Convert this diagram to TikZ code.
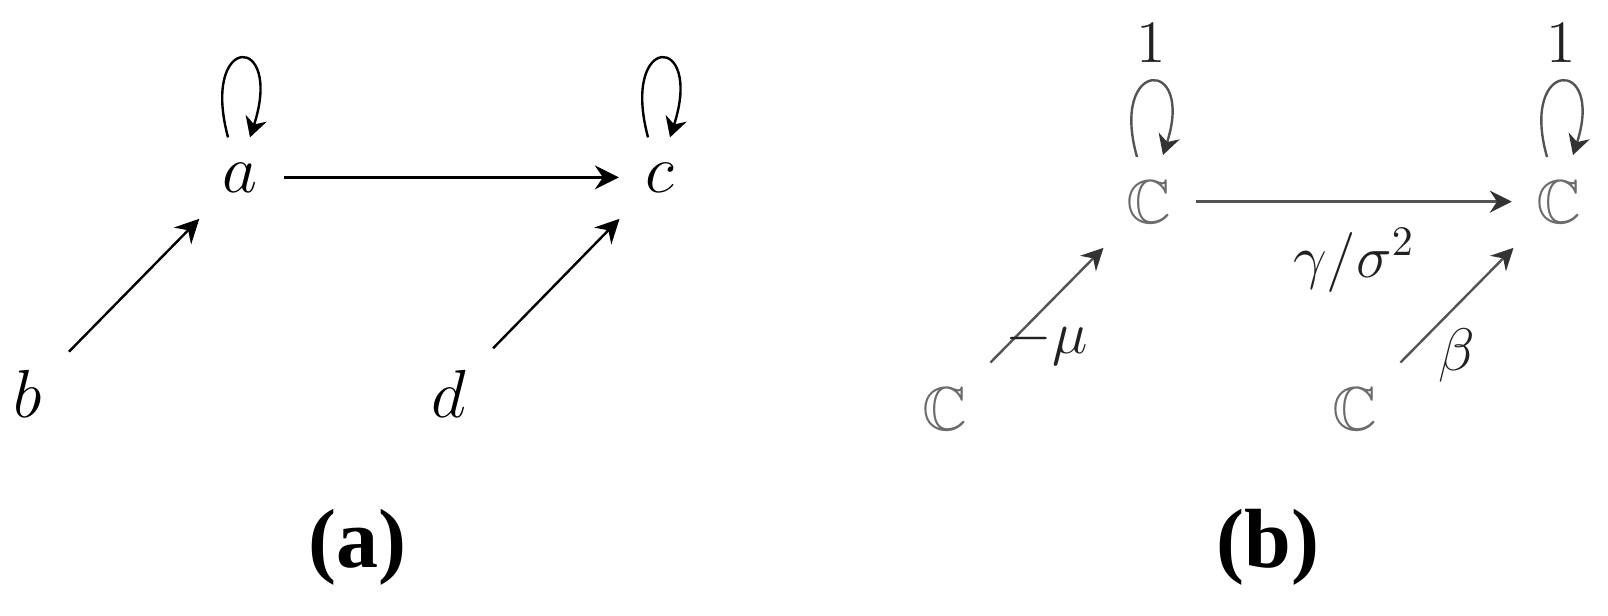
\RequirePackage{fix-cm}
\documentclass[tikz,border=0pt]{standalone}
\usepackage{amssymb}
\usepackage{fontspec}
\newfontfamily\capfont{Liberation Serif}
\usetikzlibrary{arrows.meta,calc}
\definecolor{cgray}{gray}{0.42}
\definecolor{lgray}{gray}{0.33}
\definecolor{tgray}{gray}{0.13}
\begin{document}
\begin{tikzpicture}[x=0.25pt,y=-0.25pt,
  va/.style={inner sep=6.5pt, font=\fontsize{17}{20}\selectfont},
  vb/.style={inner sep=6pt, text=cgray, font=\fontsize{15.5}{18}\selectfont},
  lab/.style={inner sep=0pt, text=tgray, font=\fontsize{15}{18}\selectfont},
  captxt/.style={inner sep=0pt, font=\capfont\bfseries\fontsize{21}{24}\selectfont},
  arrA/.style={line width=0.6pt, -{Stealth[length=6pt,width=6pt,inset=2pt]}},
  arrB/.style={line width=0.6pt, draw=lgray, -{Stealth[length=5.5pt,width=5.5pt,inset=1.8pt,color=black!80]}},
  loopA/.style={line width=0.6pt, -{Stealth[length=5pt,width=5.5pt,inset=1.6pt]}},
  loopB/.style={line width=0.6pt, draw=lgray, -{Stealth[length=5pt,width=5.5pt,inset=1.6pt,color=black!80]}}]
\useasboundingbox (0,0) rectangle (1608,615);

% ---------- panel (a) ----------
\node[va, anchor=base] (a) at (240,192) {$a$};
\node[va, anchor=base] (c) at (660,192) {$c$};
\node[va, anchor=base] (b) at (28,417) {$b$};
\node[va, anchor=base] (d) at (449,417) {$d$};

\draw[arrA] (a) -- (c);
\draw[arrA] (b) -- (a);
\draw[arrA] (d) -- (c);

\draw[loopA] ([shift={(-12,-40)}]a.center) .. controls +(-28,-105) and +(34,-105) .. ([shift={(10,-40)}]a.center);
\draw[loopA] ([shift={(-12,-40)}]c.center) .. controls +(-28,-105) and +(34,-105) .. ([shift={(10,-40)}]c.center);

\node[captxt] (capa) at (357,547) {(a)};

% ---------- panel (b) ----------
\node[vb, anchor=base] (C1) at (1149,223) {$\mathbb{C}$};
\node[vb, anchor=base] (C2) at (1559,223) {$\mathbb{C}$};
\node[vb, anchor=base] (C3) at (945,430) {$\mathbb{C}$};
\node[vb, anchor=base] (C4) at (1355,430) {$\mathbb{C}$};

\draw[arrB] (C1) -- (C2) node[lab, midway, anchor=base, yshift=-19pt] (gs) {$\gamma/\sigma^2$};
\draw[arrB] (C3) -- (C1) node[lab, midway, anchor=base, yshift=-12pt] (mu) {$-\mu$};
\draw[arrB] (C4) -- (C2) node[lab, midway, anchor=base, yshift=-16.25pt] (be) {$\beta$};

\draw[loopB] ([shift={(-12,-66)}]C1.base) .. controls +(-28,-99) and +(32,-99) .. ([shift={(14,-68)}]C1.base)
  node[lab, pos=0.5, anchor=south, yshift=4.5pt] (one1) {$1$};
\draw[loopB] ([shift={(-12,-66)}]C2.base) .. controls +(-28,-99) and +(32,-99) .. ([shift={(14,-68)}]C2.base)
  node[lab, pos=0.5, anchor=south, yshift=4.5pt] (one2) {$1$};

\node[captxt] (capb) at (1268,547) {(b)};
\end{tikzpicture}
\end{document}
